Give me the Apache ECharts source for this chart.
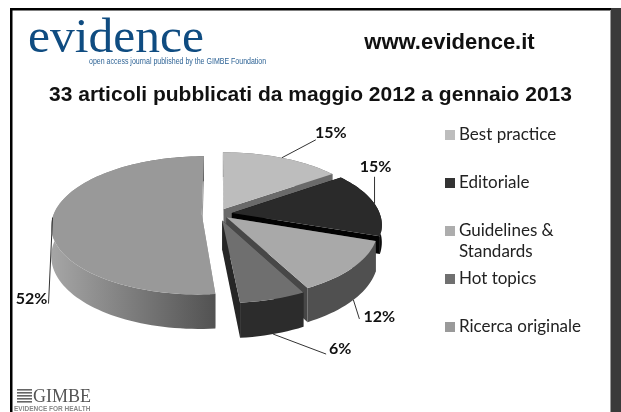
<!DOCTYPE html>
<html>
<head>
<meta charset="utf-8">
<title>33 articoli pubblicati</title>
<style>
  html, body { margin: 0; padding: 0; background: #fff; }
  #chart { width: 621px; height: 412px; }
</style>
<script src="https://cdn.jsdelivr.net/npm/echarts@6/dist/echarts.min.js"></script>
</head>
<body>
<div id="chart"></div>
<script>
// article counts read from the percentages (33 total)
const categories = ['Best practice', 'Editoriale', 'Guidelines & Standards', 'Hot topics', 'Ricerca originale']
const articles = [5, 5, 4, 2, 17]

const topColors = ['#bdbdbd', '#2a2a2a', '#a9a9a9', '#6f6f6f', '#999999']
const legendColors = ['#bdbdbd', '#333333', '#adadad', '#707070', '#9a9a9a']
const innerWallColors = ['#6a6a6a', '#030303', '#474747', '#262626', '#999999']
const outerWallColors = ['#6a6a6a', '#0c0c0c', '#505050', '#2c2c2c', null]
const drawOrder = [2, 3, 4, 5, 2]

// how far each slice is pulled out, in fractions of the radius
const explode = [0.085, 0.095, 0.075, 0.1, 0.11]
// the editorial wall hardly shows in the original, it sits behind the next slice
const wallDepths = [29, 17, 29, 29, 29]
// from the rim anchor: elbow of the leader, then text centre
const leaderOffsets = [
  [[34, -18], [49, -25]],
  [[0, -27], [1, -37]],
  [[6, 19], [26, 17]],
  [[53, 20], [67, 15]],
  [[-4, 86], [-21, 81]],
]

const cx = 218, cy = 214
const radiusX = 148, radiusY = 67.2, tilt = 0.159
const total = articles.reduce((a, b) => a + b, 0)

function sliceAngles (index) {
  let before = 0
  for (let i = 0; i < index; i++) before += articles[i]
  return [before / total * Math.PI * 2, (before + articles[index]) / total * Math.PI * 2]
}

// disk coordinates -> screen, with a bit of perspective so the near rim is bigger
function project (index, radius, theta, lowered) {
  const [a0, a1] = sliceAngles(index)
  const mid = (a0 + a1) / 2
  const px = radius * Math.sin(theta) + explode[index] * Math.sin(mid)
  const py = radius * Math.cos(theta) + explode[index] * Math.cos(mid)
  const s = 1 / (1 + tilt * py)
  return [cx + radiusX * px * s, cy - radiusY * py * s + (lowered ? wallDepths[index] * s : 0)]
}

function rimPoints (index, lowered) {
  const [a0, a1] = sliceAngles(index)
  const steps = Math.max(4, Math.round((a1 - a0) * 30))
  const pts = []
  for (let i = 0; i <= steps; i++) {
    pts.push(project(index, 1, a0 + (a1 - a0) * i / steps, lowered))
  }
  return pts
}

function renderSlice (index) {
  return function () {
    const [a0, a1] = sliceAngles(index)
    const top = rimPoints(index, false)
    const low = rimPoints(index, true)
    const apex = project(index, 0, 0, false)
    const apexLow = project(index, 0, 0, true)
    const wallFill = outerWallColors[index] || new echarts.graphic.LinearGradient(0, 0, 1, 0, [
      { offset: 0, color: '#a6a6a6' },
      { offset: 1, color: '#525252' },
    ])
    const poly = (points, fill) => ({ type: 'polygon', shape: { points }, style: { fill } })
    return {
      type: 'group',
      children: [
        poly([apex, project(index, 1, a0, false), project(index, 1, a0, true), apexLow], innerWallColors[index]),
        poly([apex, project(index, 1, a1, false), project(index, 1, a1, true), apexLow], innerWallColors[index]),
        poly(top.concat(low.slice().reverse()), wallFill),
        poly([apex].concat(top), topColors[index]),
      ],
    }
  }
}

function renderLabel (params, api) {
  const index = params.dataIndex
  const [a0, a1] = sliceAngles(index)
  const mid = (a0 + a1) / 2
  // lower slices take their leader from the bottom of the wall
  const anchor = project(index, 1, mid, Math.cos(mid) < -0.3)
  const [elbow, text] = leaderOffsets[index]
  return {
    type: 'group',
    children: [
      {
        type: 'line',
        shape: { x1: anchor[0], y1: anchor[1], x2: anchor[0] + elbow[0], y2: anchor[1] + elbow[1] },
        style: { stroke: '#333', lineWidth: 1 },
      },
      {
        type: 'text',
        style: {
          x: anchor[0] + text[0],
          y: anchor[1] + text[1],
          text: Math.round(api.value(0) / total * 100) + '%',
          font: 'bold 16px Lato',
          fill: '#111',
          align: 'center',
          verticalAlign: 'middle',
        },
      },
    ],
  }
}

const sliceSeries = categories.map((name, i) => ({
  type: 'custom',
  name,
  coordinateSystem: 'none',
  z: drawOrder[i],
  silent: true,
  itemStyle: { color: legendColors[i] },
  data: [[articles[i]]],
  renderItem: renderSlice(i),
}))

const gimbeStripes = [389, 392, 395, 398, 401].map((y) => ({
  type: 'rect',
  shape: { x: 17, y, width: 15, height: 1.6 },
  style: { fill: '#666' },
}))

const myChart = echarts.init(document.getElementById('chart'))
myChart.setOption({
  animation: false,
  backgroundColor: '#fff',
  title: {
    text: '33 articoli pubblicati da maggio 2012 a gennaio 2013',
    left: 'center',
    top: 85,
    padding: 0,
    itemGap: 0,
    textStyle: { fontFamily: 'Liberation Sans', fontWeight: 'bold', fontSize: 21, color: '#111' },
  },
  legend: {
    orient: 'vertical',
    left: 445,
    top: 125,
    itemWidth: 10,
    itemHeight: 10,
    itemGap: 28,
    padding: 0,
    selectedMode: false,
    icon: 'rect',
    data: categories,
    formatter: (name) => name.replace(' Standards', ''),
    textStyle: { fontFamily: 'Lato', fontSize: 17, color: '#222', lineHeight: 20, padding: [0, 0, 0, -1] },
  },
  graphic: [
    // slide frame
    { type: 'rect', shape: { x: 10, y: 8, width: 602, height: 2.5 }, style: { fill: '#000' } },
    { type: 'rect', shape: { x: 10, y: 8, width: 2.5, height: 404 }, style: { fill: '#000' } },
    { type: 'rect', shape: { x: 611, y: 8, width: 10, height: 404 }, style: { fill: '#3a3a3a' } },
    { type: 'rect', shape: { x: 610, y: 10, width: 1, height: 402 }, style: { fill: '#9a9a9a' } },
    // logo and address
    { type: 'text', style: { x: 28, y: 64, text: 'evidence', font: '49.5px "Liberation Serif"', fill: '#0f4c81', verticalAlign: 'bottom' } },
    { type: 'text', x: 89, scaleX: 0.78, style: { x: 0, y: 62, text: 'open access journal published by the GIMBE Foundation', font: '9px "Liberation Sans"', fill: '#2f6496', verticalAlign: 'middle' } },
    { type: 'text', style: { x: 449.5, y: 43, text: 'www.evidence.it', font: 'bold 22px "Liberation Sans"', fill: '#111', align: 'center', verticalAlign: 'middle' } },
    // second line of the wrapped legend entry
    { type: 'text', style: { x: 459, y: 252, text: 'Standards', font: '17px Lato', fill: '#222', verticalAlign: 'middle' } },
    // footer logo
    ...gimbeStripes,
    { type: 'text', style: { x: 33, y: 397, text: 'GIMBE', font: '18px "Liberation Serif"', fill: '#555', verticalAlign: 'middle' } },
    { type: 'text', style: { x: 14, y: 409, text: 'EVIDENCE FOR HEALTH', font: 'bold 6.5px "Liberation Sans"', fill: '#888', verticalAlign: 'middle' } },
  ],
  series: sliceSeries.concat([{
    type: 'custom',
    name: 'etichette',
    coordinateSystem: 'none',
    z: 10,
    silent: true,
    data: articles.map((v) => [v]),
    renderItem: renderLabel,
  }]),
})
</script>
</body>
</html>
